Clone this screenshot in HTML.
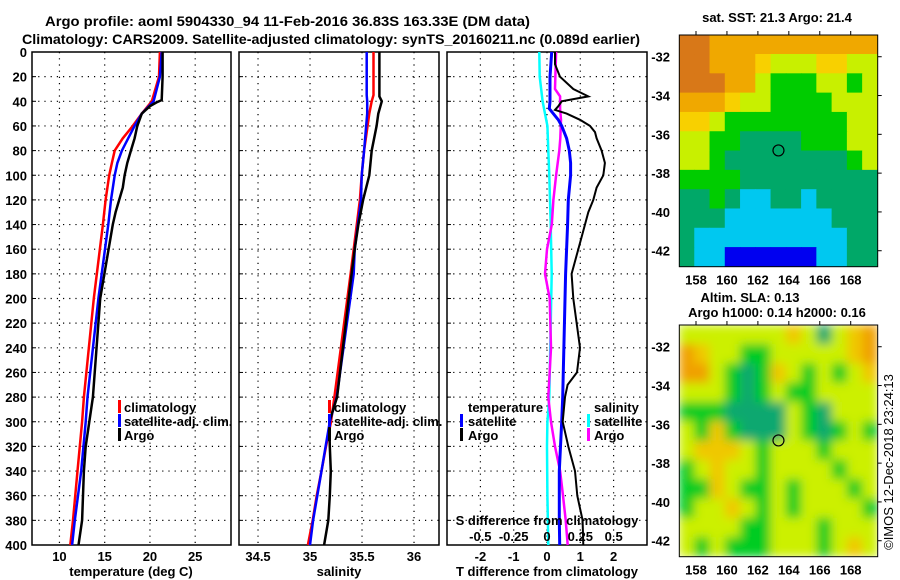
<!DOCTYPE html>
<html><head><meta charset="utf-8"><style>
body{margin:0;background:#fff;}
svg{display:block;font-family:"Liberation Sans",sans-serif;font-weight:bold;}
</style></head><body>
<svg id="chart" width="900" height="580" viewBox="0 0 900 580" xmlns="http://www.w3.org/2000/svg">
<rect width="900" height="580" fill="#fff"/>
<text x="45" y="26" font-size="14" textLength="485" lengthAdjust="spacingAndGlyphs">Argo profile: aoml 5904330_94 11-Feb-2016 36.83S 163.33E (DM data)</text>
<text x="22" y="44" font-size="14" textLength="618" lengthAdjust="spacingAndGlyphs">Climatology: CARS2009. Satellite-adjusted climatology: synTS_20160211.nc (0.089d earlier)</text>
<g id="g"></g>
</svg>
<script>
// ---- data ----
var tDepth=[0,20,40,50,60,70,80,90,100,120,140,200,280,300,340,380,400];
var tClim=[21.1,21.0,20.2,19.1,18.1,17.0,16.1,15.8,15.5,15.1,14.8,13.8,12.7,12.5,12.0,11.5,11.2];
var tSat=[21.3,21.1,20.4,19.1,18.3,17.6,16.9,16.4,16.1,15.7,15.4,14.3,13.1,12.9,12.4,11.7,11.4];
var tArgoDepth=[0,20,39,41,44,50,60,70,80,90,100,110,120,130,140,200,280,300,320,340,380,400];
var tArgo=[21.4,21.4,21.3,20.7,20.0,19.1,18.6,18.3,17.9,17.5,17.2,17.0,16.6,16.2,15.9,14.5,13.7,13.3,12.9,12.7,12.5,12.1];
var sDepth=[0,35,40,50,80,100,120,140,160,180,280,300,320,340,360,380,400];
var sClim=[35.61,35.61,35.593,35.57,35.52,35.497,35.48,35.45,35.42,35.39,35.234,35.202,35.154,35.11,35.064,35.026,34.98];
var sSat=[35.545,35.545,35.55,35.55,35.52,35.497,35.49,35.46,35.43,35.42,35.257,35.19,35.15,35.11,35.07,35.03,35.0];
var sArgoDepth=[0,36,40,50,60,80,100,120,140,160,180,280,300,320,340,360,380,400];
var sArgo=[35.667,35.667,35.69,35.657,35.64,35.593,35.57,35.51,35.465,35.43,35.40,35.26,35.185,35.19,35.2,35.19,35.176,35.135];
var dtSatDepth=[0,20,40,46,55,60,70,80,90,100,120,140,160,180,280,300,340,380,400];
var dtSat=[0.14,0.09,0.09,0.07,0.34,0.44,0.59,0.67,0.71,0.71,0.64,0.62,0.59,0.56,0.47,0.44,0.37,0.37,0.38];
var dtArgoDepth=[0,10,20,30,36,40,44,47,50,55,60,65,70,80,90,100,110,120,130,140,160,180,200,240,260,270,280,300,320,340,360,380,400];
var dtArgo=[0.24,0.24,0.39,0.79,1.24,0.44,0.34,0.24,0.59,0.99,1.29,1.44,1.49,1.64,1.74,1.69,1.49,1.39,1.24,1.14,0.94,0.74,0.79,0.99,0.9,0.62,0.54,0.47,0.64,0.84,0.91,1.07,1.09];
var dsSatDepth=[0,20,40,50,60,80,100,140,180,280,300,320,360,400];
var dsSat=[-0.058,-0.055,-0.033,-0.015,0.003,0.01,0.017,0.028,0.035,0.017,0.003,0.0,0.003,0.01];
var dsArgoDepth=[0,30,36,46,55,70,80,100,120,140,160,180,200,240,280,300,320,340,360,380,400];
var dsArgo=[0.068,0.06,0.098,0.098,0.105,0.1,0.092,0.068,0.048,0.036,0.0,-0.015,0.02,0.03,0.01,0.03,0.06,0.098,0.12,0.14,0.155];
var depthTicks=[0,20,40,60,80,100,120,140,160,180,200,220,240,260,280,300,320,340,360,380,400];
var tempTicks=[10,15,20,25];
var salTicks=[34.5,35,35.5,36];
var dtTicks=[-2,-1,0,1,2];
var dsTicks=[-0.5,-0.25,0,0.25,0.5];
var dsTickLabels=["-0.5","-0.25","0","0.25","0.5"];
var lonTicks=[158,160,162,164,166,168];
var latTicks=[-32,-34,-36,-38,-40,-42];
var sstRows=["RROOOOOOOOOOO","RROOOYLLLYYLL","RRROOLGGGLLGL","OOOYLLGGGGLLL","YYLGGGGGGGGLL","LLGGTTTTGGGLL","LLGTTTTTTTTGL","GGGGTTTTTTTTT","TTGTCCTTCTTTT","TTTCCCCCCCTTT","TCCCCCCCCCCTT","TCCBBBBBBCCTT"];
var slaRows=["YYYYYYYoYTYoO","OoYYGGYYYYYoO","OOYGTGoYGYGYo","YYYGTGYGGYYYY","GGGTTTTYGTYYY","YGoGTTTYGTGYG","YoooYGYYYGYYY","GYoYYGYYYYGYY","GGoYGGYGYYYGY","GYYoYGYGYYYYG","YYYYGGYYYGYYY","YGYGGGYYYGYoY"];
var argoLon=163.33, argoLat=-36.83;
// ---- axes ----
function yD(d){return 52+d*1.2325;}
function xT(t){return 32.3+(t-7)*9.05;}
function xS(s){return 239.3+(s-34.32)*104;}
function xdT(v){return 547+v*33.3;}
function xdS(v){return 547+v*133.3;}
var NS="http://www.w3.org/2000/svg", G=document.getElementById('g');
function mk(tag,attrs,txt){var e=document.createElementNS(NS,tag);for(var k in attrs)e.setAttribute(k,attrs[k]);if(txt!==undefined)e.textContent=txt;G.appendChild(e);return e;}
var panels=[[32,231,xT,tempTicks,null],[239,439,xS,salTicks,null],[447,647,xdT,dtTicks,null]];
panels.forEach(function(p,i){
  depthTicks.forEach(function(d){
    if(d>0&&d<400){var l=mk('line',{x1:p[0],x2:p[1],y1:yD(d),y2:yD(d),stroke:'#000','stroke-width':1.2,'stroke-dasharray':'1.2,5'});
    
    }
    var tk=mk('line',{x1:p[0],x2:p[0]+4,y1:yD(d),y2:yD(d),stroke:'#000'});
    
    
    if(i==0){var t=mk('text',{x:27,y:yD(d)+5,'font-size':13,'text-anchor':'end'},String(d));
      
      }
  });
  p[3].forEach(function(v){
    var x=p[2](v);
    var l=mk('line',{x1:x,x2:x,y1:52,y2:545,stroke:'#000','stroke-width':1.2,'stroke-dasharray':'1.2,5'});
    
    
    var t=mk('text',{x:x,y:561,'font-size':13,'text-anchor':'middle'},String(v));
    
    
  });
  var r=mk('rect',{x:p[0],y:52,width:p[1]-p[0],height:493,fill:'none',stroke:'#000','stroke-width':1.5});
  
  
});
function line(depths,vals,fx,col,name,w){
  var pts=depths.map(function(d,i){return fx(vals[i]).toFixed(1)+','+yD(d).toFixed(1);}).join(' ');
  var e=mk('polyline',{points:pts,fill:'none',stroke:col,'stroke-width':w||2.5});
  
  
}
line(tDepth,tClim,xT,'#f00','temp-climatology-line');
line(tDepth,tSat,xT,'#00f','temp-satellite-line');
line(tArgoDepth,tArgo,xT,'#000','temp-argo-line');
line(sDepth,sClim,xS,'#f00','sal-climatology-line');
line(sDepth,sSat,xS,'#00f','sal-satellite-line');
line(sArgoDepth,sArgo,xS,'#000','sal-argo-line');
line(dsSatDepth,dsSat,xdS,'#0ff','sdiff-satellite-line');
line(dsArgoDepth,dsArgo,xdS,'#f0f','sdiff-argo-line');
line(dtSatDepth,dtSat,xdT,'#00f','tdiff-satellite-line',3);
line(dtArgoDepth,dtArgo,xdT,'#000','tdiff-argo-line',2);
function txt(x,y,s,name,opt){var a={x:x,y:y,'font-size':13};for(var k in opt||{})a[k]=opt[k];var t=mk('text',a,s);
  
  return t;}
function bar(x,y,col,name){var r=mk('rect',{x:x,y:y-11,width:3,height:13,fill:col});
  
  }
// legends
[[118,'p1'],[328,'p2']].forEach(function(l){
  bar(l[0],411,'#f00',l[1]+'-legend-climatology-swatch');txt(l[0]+6,412,'climatology',l[1]+'-legend-climatology');
  bar(l[0],425,'#00f',l[1]+'-legend-satellite-swatch');txt(l[0]+6,426,'satellite-adj. clim.',l[1]+'-legend-satellite');
  bar(l[0],439,'#000',l[1]+'-legend-argo-swatch');txt(l[0]+6,440,'Argo',l[1]+'-legend-argo');
});
txt(468,412,'temperature','legend-temperature-heading');
bar(460,425,'#00f','legend-t-satellite-swatch');txt(468,426,'satellite','legend-t-satellite');
bar(460,439,'#000','legend-t-argo-swatch');txt(468,440,'Argo','legend-t-argo');
txt(594,412,'salinity','legend-salinity-heading');
bar(587,425,'#0ff','legend-s-satellite-swatch');txt(594,426,'satellite','legend-s-satellite');
bar(587,439,'#f0f','legend-s-argo-swatch');txt(594,440,'Argo','legend-s-argo');
txt(547,525,'S difference from climatology','s-axis-title',{'text-anchor':'middle'});
dsTicks.forEach(function(v,i){txt(xdS(v),541,dsTickLabels[i],'s-tick-label',{'text-anchor':'middle'});});
txt(131,576,'temperature (deg C)','temperature-axis-title',{'text-anchor':'middle'});
txt(339,576,'salinity','salinity-axis-title',{'text-anchor':'middle'});
txt(547,576,'T difference from climatology','tdiff-axis-title',{'text-anchor':'middle'});
// maps
var colors={R:'#d87818',O:'#f0a800',Y:'#f8d000',L:'#c8f000',G:'#00cc00',T:'#00a868',C:'#00c8f0',B:'#0000f0',o:'#f8c000'};
var slaColors={Y:'#ccf000',o:'#f0c800',O:'#f0a000',G:'#00cc20',T:'#10a870'};
function map(top,rows,cmap,name,blur){
  var L=679.3,R=877.7,B=top+231.7;
  function xl(lon){return L+(lon-156.92)*15.47;}
  function yl(lat){return top+(-30.88-lat)*19.4;}
  var grp=document.createElementNS(NS,'g');G.appendChild(grp);
  
  
  if(blur){grp.setAttribute('filter','url(#blr)');}
  var cw=(R-L)/13,ch=(B-top)/12;
  rows.forEach(function(r,j){for(var i=0;i<r.length;i++){
    var c=document.createElementNS(NS,'rect');
    c.setAttribute('x',L+i*cw-0.3);c.setAttribute('y',top+j*ch-0.3);c.setAttribute('width',cw+0.6);c.setAttribute('height',ch+0.6);c.setAttribute('fill',cmap[r[i]]);
    
    
    grp.appendChild(c);}});
  var cr=mk('circle',{cx:xl(argoLon),cy:yl(argoLat),r:5.5,fill:'none',stroke:'#000','stroke-width':1.2});
  
  
  var fr=mk('rect',{x:L,y:top,width:R-L,height:B-top,fill:'none',stroke:'#000','stroke-width':1});
  
  
  lonTicks.forEach(function(v){var x=xl(v);
    var tk=mk('line',{x1:x,x2:x,y1:top-4,y2:top,stroke:'#000'});
    
    
    txt(x,B+18,String(v),'lon-tick-label',{'text-anchor':'middle'});});
  latTicks.forEach(function(v){var y=yl(v);
    var tk=mk('line',{x1:R,x2:R+4,y1:y,y2:y,stroke:'#000'});
    
    
    txt(670,y+5,String(v),'lat-tick-label',{'text-anchor':'end'});});
}
var defs=document.createElementNS(NS,'defs');defs.innerHTML='<filter id="blr" x="0" y="0" width="1" height="1"><feGaussianBlur stdDeviation="5" edgeMode="duplicate"/></filter>';document.getElementById('chart').insertBefore(defs,G);
map(35,sstRows,colors,'sst-map',false);
map(325,slaRows,slaColors,'sla-map',true);
txt(777,22,'sat. SST: 21.3 Argo: 21.4','sst-map-title',{'text-anchor':'middle'});
txt(750,302,'Altim. SLA: 0.13','sla-map-title',{'text-anchor':'middle'});
txt(777,317,'Argo h1000: 0.14 h2000: 0.16','sla-argo-heights',{'text-anchor':'middle'});
var cp=txt(0,0,'©IMOS 12-Dec-2018 23:24:13','imos-credit',{'text-anchor':'middle','font-weight':'normal','transform':'translate(893,462) rotate(-90)'});
</script>
</body></html>
